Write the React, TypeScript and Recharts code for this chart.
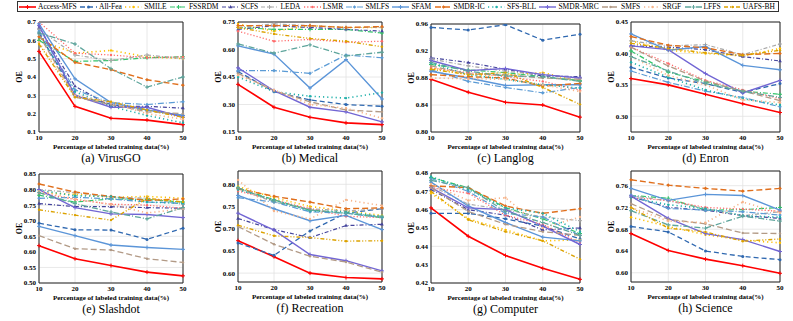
import { LineChart, Line, XAxis, YAxis, CartesianGrid, ReferenceArea } from 'recharts';

const percentages = [10, 20, 30, 40, 50];

const methods = [
  'Access-MFS', 'All-Fea', 'SMILE', 'FSSRDM', 'SCFS', 'LEDA', 'LSMR', 'SMLFS',
  'SFAM', 'SMDR-IC', 'SFS-BLL', 'SMDR-MRC', 'SMFS', 'SRGF', 'LFFS', 'UAFS-BH',
];

// one row per method, in the order of `methods`
const virusGO = [
  [0.54, 0.24, 0.175, 0.165, 0.14],
  [0.64, 0.30, 0.25, 0.22, 0.19],
  [0.60, 0.53, 0.545, 0.51, 0.50],
  [0.60, 0.485, 0.49, 0.505, 0.51],
  [0.67, 0.35, 0.24, 0.24, 0.23],
  [0.66, 0.52, 0.49, 0.52, 0.50],
  [0.70, 0.53, 0.52, 0.505, 0.51],
  [0.65, 0.33, 0.26, 0.25, 0.265],
  [0.69, 0.39, 0.26, 0.22, 0.19],
  [0.62, 0.48, 0.44, 0.385, 0.355],
  [0.63, 0.32, 0.24, 0.19, 0.15],
  [0.68, 0.30, 0.235, 0.235, 0.18],
  [0.63, 0.29, 0.25, 0.21, 0.20],
  [0.59, 0.30, 0.26, 0.20, 0.17],
  [0.64, 0.58, 0.445, 0.345, 0.40],
  [0.58, 0.29, 0.265, 0.22, 0.18],
];

const medical = [
  [0.41, 0.285, 0.23, 0.20, 0.19],
  [0.48, 0.37, 0.325, 0.30, 0.29],
  [0.74, 0.70, 0.73, 0.72, 0.72],
  [0.72, 0.71, 0.71, 0.71, 0.69],
  [0.71, 0.73, 0.72, 0.71, 0.70],
  [0.72, 0.74, 0.73, 0.72, 0.72],
  [0.70, 0.645, 0.655, 0.64, 0.645],
  [0.485, 0.485, 0.47, 0.57, 0.555],
  [0.62, 0.575, 0.39, 0.545, 0.33],
  [0.73, 0.73, 0.73, 0.72, 0.725],
  [0.45, 0.37, 0.345, 0.335, 0.365],
  [0.50, 0.375, 0.285, 0.26, 0.205],
  [0.47, 0.375, 0.315, 0.27, 0.26],
  [0.46, 0.38, 0.30, 0.28, 0.225],
  [0.63, 0.58, 0.625, 0.565, 0.585],
  [0.72, 0.685, 0.66, 0.645, 0.615],
];

const langlog = [
  [0.878, 0.859, 0.844, 0.840, 0.822],
  [0.955, 0.951, 0.959, 0.936, 0.945],
  [0.895, 0.885, 0.884, 0.888, 0.875],
  [0.900, 0.892, 0.888, 0.882, 0.876],
  [0.910, 0.903, 0.893, 0.883, 0.882],
  [0.908, 0.898, 0.890, 0.885, 0.880],
  [0.895, 0.888, 0.882, 0.875, 0.862],
  [0.892, 0.875, 0.866, 0.858, 0.866],
  [0.890, 0.880, 0.869, 0.870, 0.870],
  [0.885, 0.882, 0.880, 0.868, 0.872],
  [0.902, 0.885, 0.878, 0.870, 0.865],
  [0.906, 0.891, 0.894, 0.885, 0.880],
  [0.898, 0.886, 0.885, 0.880, 0.878],
  [0.880, 0.879, 0.878, 0.870, 0.860],
  [0.903, 0.890, 0.883, 0.882, 0.875],
  [0.893, 0.885, 0.888, 0.866, 0.841],
];

const enron = [
  [0.360, 0.350, 0.335, 0.320, 0.306],
  [0.378, 0.361, 0.352, 0.338, 0.352],
  [0.420, 0.405, 0.400, 0.396, 0.408],
  [0.404, 0.370, 0.355, 0.340, 0.335],
  [0.412, 0.410, 0.406, 0.395, 0.388],
  [0.420, 0.412, 0.414, 0.398, 0.415],
  [0.410, 0.384, 0.357, 0.342, 0.328],
  [0.372, 0.354, 0.340, 0.330, 0.315],
  [0.431, 0.405, 0.411, 0.381, 0.374],
  [0.427, 0.413, 0.409, 0.398, 0.400],
  [0.386, 0.362, 0.342, 0.328, 0.318],
  [0.412, 0.406, 0.368, 0.337, 0.357],
  [0.410, 0.380, 0.356, 0.340, 0.325],
  [0.395, 0.365, 0.350, 0.326, 0.322],
  [0.395, 0.372, 0.352, 0.340, 0.330],
  [0.416, 0.408, 0.401, 0.397, 0.405],
];

const slashdot = [
  [0.620, 0.578, 0.556, 0.535, 0.523],
  [0.692, 0.671, 0.670, 0.640, 0.676],
  [0.790, 0.785, 0.775, 0.778, 0.772],
  [0.782, 0.760, 0.770, 0.768, 0.760],
  [0.755, 0.745, 0.745, 0.742, 0.740],
  [0.800, 0.790, 0.776, 0.772, 0.752],
  [0.790, 0.768, 0.753, 0.750, 0.740],
  [0.772, 0.775, 0.770, 0.760, 0.756],
  [0.682, 0.652, 0.622, 0.614, 0.608],
  [0.818, 0.792, 0.778, 0.765, 0.770],
  [0.798, 0.780, 0.778, 0.760, 0.756],
  [0.800, 0.742, 0.722, 0.720, 0.710],
  [0.652, 0.610, 0.606, 0.578, 0.566],
  [0.795, 0.770, 0.752, 0.725, 0.738],
  [0.790, 0.755, 0.728, 0.706, 0.742],
  [0.735, 0.718, 0.702, 0.772, 0.760],
];

const recreation = [
  [0.673, 0.637, 0.600, 0.590, 0.587],
  [0.668, 0.640, 0.695, 0.735, 0.745],
  [0.795, 0.770, 0.750, 0.740, 0.730],
  [0.792, 0.765, 0.742, 0.735, 0.725],
  [0.723, 0.698, 0.680, 0.707, 0.710],
  [0.790, 0.760, 0.745, 0.740, 0.745],
  [0.785, 0.765, 0.745, 0.728, 0.725],
  [0.770, 0.760, 0.738, 0.735, 0.725],
  [0.775, 0.745, 0.718, 0.730, 0.698],
  [0.790, 0.773, 0.760, 0.745, 0.747],
  [0.788, 0.765, 0.740, 0.738, 0.727],
  [0.735, 0.697, 0.642, 0.628, 0.605],
  [0.705, 0.665, 0.638, 0.625, 0.602],
  [0.810, 0.740, 0.722, 0.765, 0.752],
  [0.792, 0.762, 0.742, 0.735, 0.728],
  [0.708, 0.684, 0.680, 0.672, 0.673],
];

const computer = [
  [0.461, 0.4455, 0.435, 0.428, 0.422],
  [0.458, 0.458, 0.455, 0.451, 0.444],
  [0.469, 0.455, 0.449, 0.443, 0.4435],
  [0.4775, 0.472, 0.461, 0.455, 0.447],
  [0.471, 0.460, 0.457, 0.449, 0.450],
  [0.473, 0.463, 0.460, 0.456, 0.454],
  [0.472, 0.469, 0.457, 0.452, 0.442],
  [0.477, 0.470, 0.458, 0.456, 0.446],
  [0.475, 0.462, 0.453, 0.445, 0.443],
  [0.473, 0.472, 0.462, 0.458, 0.4605],
  [0.478, 0.471, 0.461, 0.458, 0.448],
  [0.472, 0.461, 0.460, 0.451, 0.441],
  [0.472, 0.459, 0.452, 0.448, 0.446],
  [0.474, 0.465, 0.4665, 0.450, 0.456],
  [0.476, 0.472, 0.459, 0.453, 0.446],
  [0.470, 0.4545, 0.448, 0.443, 0.433],
];

const science = [
  [0.672, 0.641, 0.625, 0.613, 0.599],
  [0.685, 0.675, 0.640, 0.630, 0.624],
  [0.702, 0.685, 0.670, 0.660, 0.655],
  [0.742, 0.737, 0.715, 0.716, 0.720],
  [0.740, 0.720, 0.715, 0.705, 0.700],
  [0.742, 0.732, 0.718, 0.705, 0.712],
  [0.738, 0.733, 0.720, 0.717, 0.713],
  [0.743, 0.718, 0.715, 0.712, 0.706],
  [0.755, 0.733, 0.744, 0.742, 0.715],
  [0.771, 0.761, 0.755, 0.750, 0.755],
  [0.738, 0.725, 0.718, 0.705, 0.702],
  [0.741, 0.700, 0.672, 0.661, 0.639],
  [0.727, 0.698, 0.690, 0.673, 0.672],
  [0.720, 0.695, 0.692, 0.730, 0.710],
  [0.714, 0.688, 0.682, 0.704, 0.695],
  [0.720, 0.682, 0.675, 0.658, 0.662],
];

const FONT = '"Liberation Serif", "DejaVu Serif", serif';

type Shape = 'plus' | 'circle' | 'tri' | 'diamond' | 'dot';

const seriesStyle: { color: string; dash?: string; width: number; shape: Shape }[] = [
  { color: '#ff0000', width: 1.6, shape: 'plus' },
  { color: '#2f68b0', dash: '5 3', width: 1.3, shape: 'circle' },
  { color: '#ffc000', dash: '1.2 3', width: 1.6, shape: 'dot' },
  { color: '#33c46a', dash: '5 2 1 2', width: 1.2, shape: 'plus' },
  { color: '#44449c', dash: '4 2 1 2', width: 1.2, shape: 'tri' },
  { color: '#a8a8a8', dash: '4 2 1 2', width: 1.2, shape: 'plus' },
  { color: '#ff6b6b', dash: '1.2 2', width: 1.3, shape: 'dot' },
  { color: '#5b9bd5', dash: '6 2 1 2', width: 1.2, shape: 'diamond' },
  { color: '#5b95d8', width: 1.4, shape: 'plus' },
  { color: '#e06f1c', dash: '6 3', width: 1.4, shape: 'diamond' },
  { color: '#1fb0aa', dash: '1.2 3', width: 1.6, shape: 'dot' },
  { color: '#7266d4', width: 1.4, shape: 'plus' },
  { color: '#b29a86', dash: '6 3', width: 1.3, shape: 'dot' },
  { color: '#f6b48a', dash: '1.2 3', width: 1.6, shape: 'dot' },
  { color: '#5ea59c', dash: '6 2 1 2', width: 1.3, shape: 'plus' },
  { color: '#dca200', dash: '4 2 1 2 1 2', width: 1.4, shape: 'dot' },
];

const panels = [
  { caption: '(a) VirusGO', values: virusGO, domain: [0.1, 0.7], ticks: [0.1, 0.2, 0.3, 0.4, 0.5, 0.6, 0.7], digits: 1, rect: { x: 39, y: 22, w: 144, h: 110 } },
  { caption: '(b) Medical', values: medical, domain: [0.15, 0.75], ticks: [0.15, 0.3, 0.45, 0.6, 0.75], digits: 2, rect: { x: 238, y: 22, w: 144, h: 110 } },
  { caption: '(c) Langlog', values: langlog, domain: [0.8, 0.96], ticks: [0.8, 0.84, 0.88, 0.92, 0.96], digits: 2, rect: { x: 431, y: 24, w: 149, h: 108 } },
  { caption: '(d) Enron', values: enron, domain: [0.275, 0.45], ticks: [0.3, 0.35, 0.4, 0.45], digits: 2, rect: { x: 631, y: 22, w: 149, h: 110 } },
  { caption: '(e) Slashdot', values: slashdot, domain: [0.5, 0.85], ticks: [0.5, 0.55, 0.6, 0.65, 0.7, 0.75, 0.8, 0.85], digits: 2, rect: { x: 39, y: 174, w: 144, h: 109 } },
  { caption: '(f) Recreation', values: recreation, domain: [0.58, 0.83], ticks: [0.6, 0.65, 0.7, 0.75, 0.8], digits: 2, rect: { x: 238, y: 171, w: 144, h: 111 } },
  { caption: '(g) Computer', values: computer, domain: [0.42, 0.48], ticks: [0.42, 0.43, 0.44, 0.45, 0.46, 0.47, 0.48], digits: 2, rect: { x: 431, y: 173, w: 149, h: 110 } },
  { caption: '(h) Science', values: science, domain: [0.583, 0.787], ticks: [0.6, 0.64, 0.68, 0.72, 0.76], digits: 2, rect: { x: 631, y: 171, w: 149, h: 111 } },
];

const Marker = ({ shape, cx, cy, color }: { shape: Shape; cx: number; cy: number; color: string }) => {
  if (cx == null || cy == null) return null;
  switch (shape) {
    case 'plus':
      return <path d={`M${cx - 2},${cy}H${cx + 2}M${cx},${cy - 2}V${cy + 2}`} stroke={color} strokeWidth={1} />;
    case 'circle':
      return <circle cx={cx} cy={cy} r={1.5} fill={color} />;
    case 'tri':
      return <path d={`M${cx},${cy - 2}L${cx + 1.8},${cy + 1.2}L${cx - 1.8},${cy + 1.2}Z`} fill={color} />;
    case 'diamond':
      return <path d={`M${cx},${cy - 1.8}L${cx + 1.8},${cy}L${cx},${cy + 1.8}L${cx - 1.8},${cy}Z`} fill={color} />;
    default:
      return <circle cx={cx} cy={cy} r={1.2} fill={color} />;
  }
};

const tickStyle = { fontFamily: FONT, fontSize: 7, fontWeight: 700, fill: '#000' };

const Panel = ({ cfg }: { cfg: (typeof panels)[number] }) => {
  const { x, y, w, h } = cfg.rect;
  const padL = 30;
  const padT = 4;
  const padR = 4;
  const xAxisH = 21;
  const data = percentages.map((p, i) => {
    const row: Record<string, number> = { pct: p };
    methods.forEach((m, j) => {
      row[m] = cfg.values[j][i];
    });
    return row;
  });

  return (
    <div style={{ position: 'absolute', left: x - padL, top: y - padT }}>
      <LineChart
        width={w + padL + padR}
        height={h + padT + xAxisH}
        data={data}
        margin={{ top: padT, right: padR, bottom: 0, left: 0 }}
      >
        <CartesianGrid stroke="#e2e2e2" strokeWidth={0.8} />
        <XAxis
          dataKey="pct"
          type="number"
          domain={[10, 50]}
          ticks={percentages}
          height={xAxisH}
          axisLine={false}
          tickLine={false}
          tickSize={2}
          tickMargin={1}
          tick={tickStyle}
          label={{
            value: 'Percentage of labeled training data(%)',
            position: 'insideBottom',
            offset: 4,
            style: { fontFamily: FONT, fontSize: 7, fontWeight: 700, fill: '#000' },
          }}
        />
        <YAxis
          type="number"
          domain={cfg.domain}
          ticks={cfg.ticks}
          allowDataOverflow
          width={padL}
          axisLine={false}
          tickLine={false}
          tickSize={2}
          tickMargin={1}
          tick={tickStyle}
          tickFormatter={(v: number) => v.toFixed(cfg.digits)}
          label={{
            value: 'OE',
            angle: -90,
            position: 'insideLeft',
            offset: 10,
            style: { fontFamily: FONT, fontSize: 8, fontWeight: 700, fill: '#000', textAnchor: 'middle' },
          }}
        />
        {methods.map((m, j) => {
          const s = seriesStyle[j];
          return (
            <Line
              key={m}
              dataKey={m}
              type="linear"
              stroke={s.color}
              strokeWidth={s.width}
              strokeDasharray={s.dash}
              isAnimationActive={false}
              dot={(p: any) => (
                <Marker key={`${m}-${p.index}`} shape={s.shape} cx={p.cx} cy={p.cy} color={s.color} />
              )}
              activeDot={false}
            />
          );
        })}
        <ReferenceArea
          x1={10}
          x2={50}
          y1={cfg.domain[0]}
          y2={cfg.domain[1]}
          fill="none"
          stroke="#222"
          strokeWidth={1}
          ifOverflow="visible"
        />
      </LineChart>
      <div
        style={{
          position: 'absolute',
          left: padL - 10,
          width: w + 20,
          top: padT + h + 19,
          textAlign: 'center',
          fontFamily: FONT,
          fontSize: 12,
          lineHeight: '14px',
          color: '#000',
          whiteSpace: 'nowrap',
        }}
      >
        {cfg.caption}
      </div>
    </div>
  );
};

const LegendBox = () => (
  <div
    style={{
      position: 'absolute',
      left: 17,
      top: 1,
      width: 762,
      height: 11,
      border: '1px solid #333',
      display: 'flex',
      alignItems: 'center',
      justifyContent: 'space-between',
      padding: '0 3px 0 1px',
      boxSizing: 'border-box',
      fontFamily: FONT,
      fontSize: 7.5,
      lineHeight: '9px',
      color: '#000',
      whiteSpace: 'nowrap',
    }}
  >
    {methods.map((m, j) => {
      const s = seriesStyle[j];
      return (
        <div key={m} style={{ display: 'flex', alignItems: 'center' }}>
          <svg width={17} height={6} style={{ display: 'block' }}>
            <line x1={0} y1={3} x2={17} y2={3} stroke={s.color} strokeWidth={s.width} strokeDasharray={s.dash} />
            <Marker shape={s.shape} cx={8.5} cy={3} color={s.color} />
          </svg>
          <span style={{ marginLeft: 2 }}>{m}</span>
        </div>
      );
    })}
  </div>
);

const App = () => {
  return (
    <div style={{ position: 'absolute', left: 0, top: 0, width: 793, height: 321, background: '#fff', overflow: 'hidden' }}>
      <LegendBox />
      {panels.map((p) => (
        <Panel key={p.caption} cfg={p} />
      ))}
    </div>
  );
};

export default App;
